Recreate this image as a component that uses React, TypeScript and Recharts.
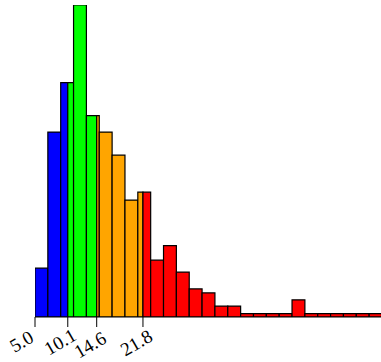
import { ComposedChart, XAxis, YAxis, ReferenceArea } from "recharts";

// histogram bins (left edge), bin width 2
const binLefts = [5, 7, 9, 11, 13, 15, 17, 19, 21, 23, 25, 27, 29, 31, 33, 35, 37, 39, 41, 43, 45, 47, 49, 51, 53, 55, 57];
const counts = [14.8, 56, 71, 94.5, 61, 56, 49, 35.4, 37.8, 17.2, 21.6, 13.6, 8.5, 7.3, 3.3, 3.3, 1, 1, 1, 1, 5.2, 1, 1, 1, 1, 1, 1];
const BIN_WIDTH = 2;

// colour changes at these x values
const breaks = [10.1, 14.6, 21.8];
const palette = ["#0000ff", "#00ff00", "#ffa500", "#ff0000"];
const tickValues = [5.0, 10.1, 14.6, 21.8];

// nudges so the rotated labels don't collide
const LABEL_NUDGE: [number, number][] = [
  [0, 13],
  [10, 11],
  [11, 14],
  [11, 12],
];

type Segment = { x1: number; x2: number; y: number; color: string };

function buildSegments(): Segment[] {
  const out: Segment[] = [];
  binLefts.forEach((left, i) => {
    const right = left + BIN_WIDTH;
    const cuts = [left, ...breaks.filter((b) => b > left && b < right), right];
    for (let k = 0; k < cuts.length - 1; k++) {
      const a = cuts[k];
      const ci = breaks.filter((b) => b <= a).length;
      out.push({ x1: a, x2: cuts[k + 1], y: counts[i], color: palette[ci] });
    }
  });
  return out;
}

const segments = buildSegments();
const maxCount = Math.max(...counts);

function RotatedTick(props: any) {
  const { x, y, payload, index } = props;
  const [dx, dy] = LABEL_NUDGE[index] ?? [3, 13];
  const ax = x + dx;
  const ay = y + dy;
  return (
    <text
      x={ax}
      y={ay}
      transform={`rotate(-30, ${ax}, ${ay})`}
      textAnchor="end"
      fontFamily="'Liberation Serif', serif"
      fontSize={19}
      fill="#000"
    >
      {Number(payload.value).toFixed(1)}
    </text>
  );
}

export default function App() {
  return (
    <div style={{ position: "absolute", left: 0, top: 0, background: "#fff" }}>
      <ComposedChart width={382} height={362} data={[]} margin={{ top: 5, right: 0, left: 35, bottom: 0 }}>
        <XAxis
          type="number"
          dataKey="x"
          domain={[5, 59]}
          ticks={tickValues}
          allowDataOverflow
          height={45}
          tickSize={10}
          tickMargin={1}
          stroke="#000"
          tickLine={{ stroke: "#000" }}
          tick={<RotatedTick />}
          interval={0}
        />
        <YAxis type="number" domain={[0, maxCount]} hide allowDataOverflow />
        {segments.map((s, i) => (
          <ReferenceArea
            key={i}
            x1={s.x1}
            x2={s.x2}
            y1={0}
            y2={s.y}
            fill={s.color}
            fillOpacity={1}
            stroke="#000"
            strokeWidth={1.2}
            ifOverflow="hidden"
          />
        ))}
      </ComposedChart>
    </div>
  );
}
